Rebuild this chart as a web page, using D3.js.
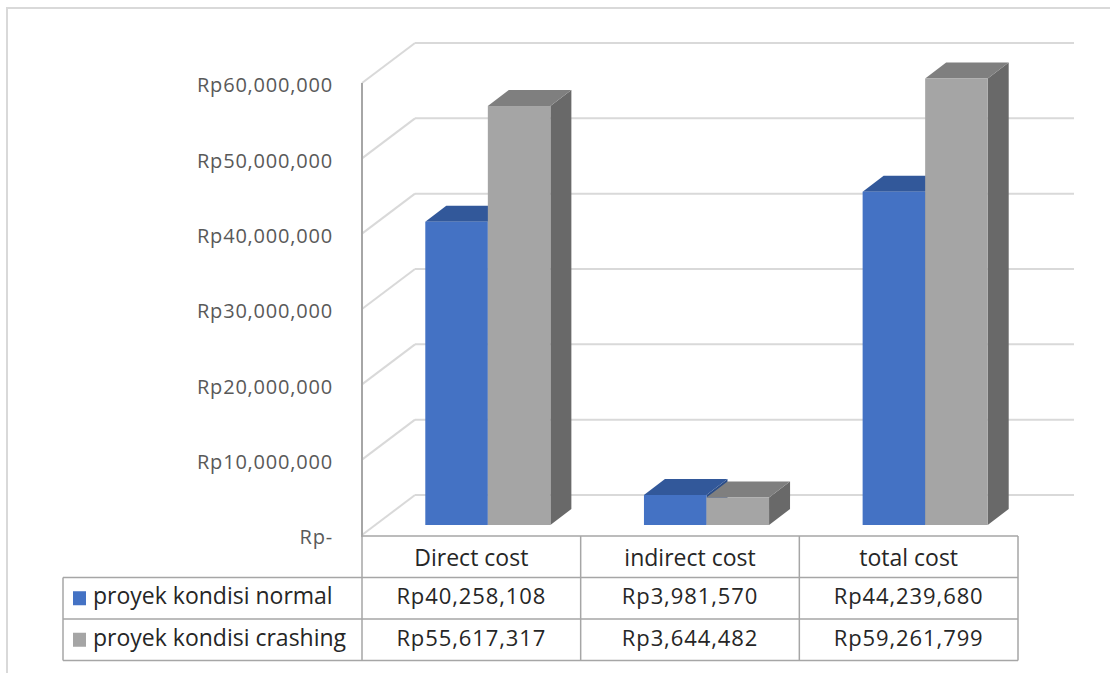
<!DOCTYPE html>
<html>
<head>
<meta charset="utf-8">
<script src="https://cdn.jsdelivr.net/npm/d3@7"></script>
<style>
  body { margin: 0; background: #fff; }
  svg { display: block; font-family: "Open Sans", "Noto Sans", sans-serif; }
</style>
</head>
<body>
<svg id="chart" width="1110" height="673"></svg>
<script>
var categories = ["Direct cost", "indirect cost", "total cost"];
var seriesNames = ["proyek kondisi normal", "proyek kondisi crashing"];
var normalCost = [40258108, 3981570, 44239680];
var crashingCost = [55617317, 3644482, 59261799];
var yTicks = [0, 10000000, 20000000, 30000000, 40000000, 50000000, 60000000];

var seriesValues = [normalCost, crashingCost];
var faceColors = [
  { front: "#4472c4", top: "#32589a", side: "#2b4d88" },
  { front: "#a5a5a5", top: "#7f7f7f", side: "#696969" }
];

var svg = d3.select("#chart");

// frame of the chart area
svg.append("path")
  .attr("d", "M 7 680 L 7 8 L 1120 8")
  .attr("fill", "none")
  .attr("stroke", "#d9d9d9")
  .attr("stroke-width", 2);

var left = 362, right = 1018;
var wallDx = 53, wallDy = 40;   // depth of floor / side wall
var barDx = 21, barDy = 16;     // depth of a column
var barShiftX = 13, barShiftY = 10; // columns sit a bit behind the front plane

var x = d3.scaleBand().domain(categories).range([left, right]);
var y = d3.scaleLinear().domain([0, 60000000]).range([535, 83]);

var fmt = d3.format(",");
function rp(v) { return v === 0 ? "Rp-" : "Rp" + fmt(v); }

// back wall gridlines + side wall diagonals
var grid = svg.append("g");
grid.selectAll("line.back")
  .data(yTicks)
  .enter()
  .append("line")
  .attr("x1", left + wallDx)
  .attr("x2", 1074)
  .attr("y1", function(d){ return y(d) - wallDy; })
  .attr("y2", function(d){ return y(d) - wallDy; })
  .attr("stroke", "#d9d9d9")
  .attr("stroke-width", 2);
grid.selectAll("line.diag")
  .data(yTicks)
  .enter()
  .append("line")
  .attr("x1", left)
  .attr("x2", left + wallDx)
  .attr("y1", function(d){ return y(d); })
  .attr("y2", function(d){ return y(d) - wallDy; })
  .attr("stroke", "#d9d9d9")
  .attr("stroke-width", 2);

// front vertical axis
svg.append("line")
  .attr("x1", left).attr("x2", left)
  .attr("y1", y(60000000)).attr("y2", 537)
  .attr("stroke", "#a6a6a6")
  .attr("stroke-width", 2);

// tick labels
svg.selectAll("text.tick")
  .data(yTicks)
  .enter()
  .append("text")
  .attr("x", 333)
  .attr("y", function(d){ return y(d) + 4; })
  .attr("text-anchor", "end")
  .attr("dominant-baseline", "middle")
  .attr("font-size", 20)
  .attr("letter-spacing", 0.8)
  .attr("fill", "#595959")
  .text(rp);

// 3d columns
var bw = x.bandwidth();
var colW = bw * 0.286;
var colOffset = bw * 0.23;
var bars = svg.append("g");

categories.forEach(function(cat, ci) {
  seriesValues.forEach(function(vals, si) {
    var x0 = x(cat) + barShiftX + colOffset + si * colW;
    var x1 = x0 + colW;
    var yb = y(0) - barShiftY;
    var yt = y(vals[ci]) - barShiftY;
    var c = faceColors[si];
    var g = bars.append("g");
    // side face
    g.append("path")
      .attr("d", "M " + x1 + " " + yt + " L " + (x1 + barDx) + " " + (yt - barDy) +
        " L " + (x1 + barDx) + " " + (yb - barDy) + " L " + x1 + " " + yb + " Z")
      .attr("fill", c.side);
    // top face
    g.append("path")
      .attr("d", "M " + x0 + " " + yt + " L " + (x0 + barDx) + " " + (yt - barDy) +
        " L " + (x1 + barDx) + " " + (yt - barDy) + " L " + x1 + " " + yt + " Z")
      .attr("fill", c.top);
    // front face
    g.append("rect")
      .attr("x", x0)
      .attr("y", yt)
      .attr("width", colW)
      .attr("height", yb - yt)
      .attr("fill", c.front);
  });
});

// data table
var rowTop = 536, rowH = 41.5;
var legendLeft = 63;
var table = svg.append("g")
  .attr("stroke", "#a6a6a6")
  .attr("stroke-width", 1.5)
  .attr("fill", "none");

table.append("line")
  .attr("x1", left).attr("x2", right)
  .attr("y1", rowTop).attr("y2", rowTop);
[1, 2, 3].forEach(function(r) {
  table.append("line")
    .attr("x1", legendLeft).attr("x2", right)
    .attr("y1", rowTop + r * rowH).attr("y2", rowTop + r * rowH);
});
table.append("line")
  .attr("x1", legendLeft).attr("x2", legendLeft)
  .attr("y1", rowTop + rowH).attr("y2", rowTop + 3 * rowH);
categories.forEach(function(cat) {
  table.append("line")
    .attr("x1", x(cat)).attr("x2", x(cat))
    .attr("y1", rowTop).attr("y2", rowTop + 3 * rowH);
});
table.append("line")
  .attr("x1", right).attr("x2", right)
  .attr("y1", rowTop).attr("y2", rowTop + 3 * rowH);

// header labels
svg.selectAll("text.cat")
  .data(categories)
  .enter()
  .append("text")
  .attr("x", function(d){ return x(d) + bw / 2; })
  .attr("y", rowTop + rowH / 2 + 3)
  .attr("text-anchor", "middle")
  .attr("dominant-baseline", "middle")
  .attr("font-size", 23)
  .attr("fill", "#262626")
  .text(function(d){ return d; });

// legend rows + values
seriesValues.forEach(function(vals, si) {
  var cy = rowTop + (si + 1) * rowH + rowH / 2;
  svg.append("rect")
    .attr("x", 73)
    .attr("y", cy - 7)
    .attr("width", 13)
    .attr("height", 14)
    .attr("fill", faceColors[si].front);
  svg.append("text")
    .attr("x", 93)
    .attr("y", cy)
    .attr("dominant-baseline", "middle")
    .attr("font-size", 23)
    .attr("fill", "#262626")
    .text(seriesNames[si]);
  svg.selectAll(null)
    .data(vals)
    .enter()
    .append("text")
    .attr("x", function(d, i){ return x(categories[i]) + bw / 2; })
    .attr("y", cy)
    .attr("text-anchor", "middle")
    .attr("dominant-baseline", "middle")
    .attr("font-size", 22)
    .attr("letter-spacing", 0.9)
    .attr("fill", "#262626")
    .text(rp);
});
</script>
</body>
</html>
